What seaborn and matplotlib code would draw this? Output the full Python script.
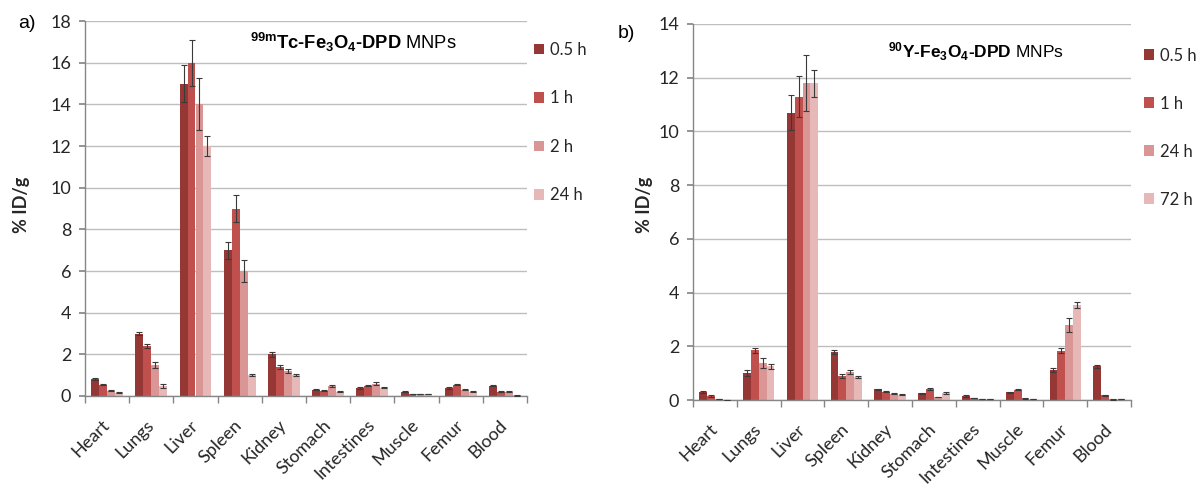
import numpy as np
import pandas as pd
import matplotlib
matplotlib.use("Agg")
import matplotlib.pyplot as plt
import seaborn as sns

# ---------------- data ----------------
organs = ["Heart", "Lungs", "Liver", "Spleen", "Kidney", "Stomach",
          "Intestines", "Muscle", "Femur", "Blood"]

# panel a: 99mTc-Fe3O4-DPD MNPs
times_a = ["0.5 h", "1 h", "2 h", "24 h"]
tc_05 = [0.80, 3.00, 15.0, 7.0, 2.00, 0.30, 0.40, 0.20, 0.40, 0.50]
tc_1 = [0.55, 2.40, 16.0, 9.0, 1.40, 0.25, 0.50, 0.10, 0.55, 0.20]
tc_2 = [0.25, 1.50, 14.0, 6.0, 1.20, 0.50, 0.60, 0.10, 0.30, 0.20]
tc_24 = [0.15, 0.50, 12.0, 1.0, 1.00, 0.20, 0.40, 0.10, 0.20, 0.03]
tc_err_05 = [0.05, 0.08, 0.90, 0.40, 0.12, 0.03, 0.04, 0.03, 0.04, 0.03]
tc_err_1 = [0.03, 0.10, 1.10, 0.65, 0.10, 0.02, 0.04, 0.02, 0.04, 0.02]
tc_err_2 = [0.03, 0.15, 1.25, 0.55, 0.10, 0.05, 0.05, 0.02, 0.03, 0.03]
tc_err_24 = [0.02, 0.10, 0.50, 0.05, 0.05, 0.02, 0.03, 0.02, 0.03, 0.01]

# panel b: 90Y-Fe3O4-DPD MNPs
times_b = ["0.5 h", "1 h", "24 h", "72 h"]
y_05 = [0.30, 1.00, 10.7, 1.80, 0.40, 0.25, 0.15, 0.28, 1.12, 1.25]
y_1 = [0.15, 1.85, 11.3, 0.88, 0.30, 0.42, 0.08, 0.38, 1.84, 0.17]
y_24 = [0.03, 1.38, 11.8, 1.03, 0.23, 0.12, 0.03, 0.06, 2.80, 0.02]
y_72 = [0.01, 1.25, 11.8, 0.85, 0.20, 0.27, 0.03, 0.03, 3.54, 0.03]
y_err_05 = [0.03, 0.10, 0.65, 0.08, 0.02, 0.02, 0.02, 0.02, 0.06, 0.06]
y_err_1 = [0.02, 0.10, 0.78, 0.07, 0.02, 0.03, 0.01, 0.02, 0.08, 0.02]
y_err_24 = [0.01, 0.18, 1.03, 0.08, 0.02, 0.01, 0.01, 0.01, 0.27, 0.01]
y_err_72 = [0.00, 0.08, 0.50, 0.04, 0.02, 0.04, 0.01, 0.01, 0.12, 0.01]

colors = ["#953735", "#C0504D", "#D99694", "#E6B9B8"]

# ---------------- style ----------------
sns.set_theme(style="white")
plt.rcParams["font.family"] = ["Lato", "DejaVu Sans"]
plt.rcParams["mathtext.fontset"] = "custom"
plt.rcParams["mathtext.rm"] = "Liberation Sans"
plt.rcParams["mathtext.bf"] = "Liberation Sans:bold"
plt.rcParams["mathtext.it"] = "Liberation Sans:italic"

GRAY = "#868686"
TXT = "#262626"

fig = plt.figure(figsize=(12, 4.86), dpi=100)
W, H = 1200, 486


def add_ax(x0, x1, ytop, ybot):
    return fig.add_axes([x0 / W, 1 - ybot / H, (x1 - x0) / W, (ybot - ytop) / H])


def panel(ax, series, errs, times, ymax, ystep, leg_anchor, leg_spacing,
          ylab_xy):
    df = pd.DataFrame({
        "organ": np.tile(organs, len(times)),
        "time": np.repeat(times, len(organs)),
        "value": np.concatenate([np.asarray(s, float) for s in series]),
    })
    sns.barplot(data=df, x="organ", y="value", hue="time", order=organs,
                hue_order=times, palette=colors, width=0.72, errorbar=None,
                saturation=1, linewidth=0, edgecolor="none", ax=ax)
    for cont, err in zip(ax.containers, errs):
        xs = [p.get_x() + p.get_width() / 2 for p in cont]
        hs = [p.get_height() for p in cont]
        ax.errorbar(xs, hs, yerr=err, fmt="none",
                    ecolor="#3a3a3a", elinewidth=0.8, capsize=2, capthick=0.8,
                    zorder=3)
    ax.set_xlim(-0.5, len(organs) - 0.5)
    ax.set_ylim(0, ymax)
    ticks = np.arange(0, ymax + 0.01, ystep)
    ax.set_yticks(ticks)
    ax.set_yticklabels([f"{int(v)}" for v in ticks])
    ax.yaxis.grid(True, color="#BEBEBE", lw=1)
    ax.xaxis.grid(False)
    ax.set_axisbelow(True)
    for s in ["top", "right"]:
        ax.spines[s].set_visible(False)
    for s in ["left", "bottom"]:
        ax.spines[s].set_color(GRAY)
        ax.spines[s].set_linewidth(1)
    ax.set_xticks(range(len(organs)))
    ax.set_xticklabels(organs, rotation=45, ha="right", rotation_mode="anchor",
                       va="center", fontsize=13, color=TXT)
    ax.set_xticks(np.arange(-0.5, len(organs), 1), minor=True)
    ax.tick_params(axis="x", which="major", length=0, pad=19, bottom=True)
    ax.tick_params(axis="x", which="minor", length=5, color=GRAY, bottom=True,
                   direction="out")
    ax.tick_params(axis="y", which="major", length=4, color=GRAY, left=True,
                   direction="out", labelsize=13, labelcolor=TXT, pad=6)
    ax.set_xlabel("")
    ax.set_ylabel("% ID/g", fontsize=13, fontweight="bold", color=TXT)
    ax.yaxis.set_label_coords(*ylab_xy)
    handles, labels = ax.get_legend_handles_labels()
    ax.legend(handles, labels, loc="upper left", bbox_to_anchor=leg_anchor,
              frameon=False, fontsize=12, handlelength=0.6, handleheight=0.6,
              handletextpad=0.35, labelspacing=leg_spacing, borderaxespad=0,
              labelcolor=TXT)


ax_a = add_ax(85, 527, 21, 396)
panel(ax_a, [tc_05, tc_1, tc_2, tc_24],
      [tc_err_05, tc_err_1, tc_err_2, tc_err_24], times_a, 18, 2,
      (1.0, 0.962), 1.95, (-0.124, 0.51))

ax_b = add_ax(693, 1131, 24, 400)
panel(ax_b, [y_05, y_1, y_24, y_72],
      [y_err_05, y_err_1, y_err_24, y_err_72], times_b, 14, 2,
      (1.015, 0.955), 1.92, (-0.091, 0.52))

fig.text(18 / W, 1 - 24 / H, "a)", fontsize=14, family="Liberation Sans",
         va="center", ha="left", color="black")
fig.text(618 / W, 1 - 33 / H, "b)", fontsize=14, family="Liberation Sans",
         va="center", ha="left", color="black")

fig.text(250 / W, 1 - 42 / H,
         r"$\mathbf{^{99m}Tc‐Fe_{3}O_{4}‐DPD}$ MNPs",
         fontsize=13.2, family="Liberation Sans", va="center", ha="left",
         color="black")
fig.text(888 / W, 1 - 52 / H,
         r"$\mathbf{^{90}Y‐Fe_{3}O_{4}‐DPD}$ MNPs",
         fontsize=12.5, family="Liberation Sans", va="center", ha="left",
         color="black")

fig.savefig("out.png", dpi=100)
